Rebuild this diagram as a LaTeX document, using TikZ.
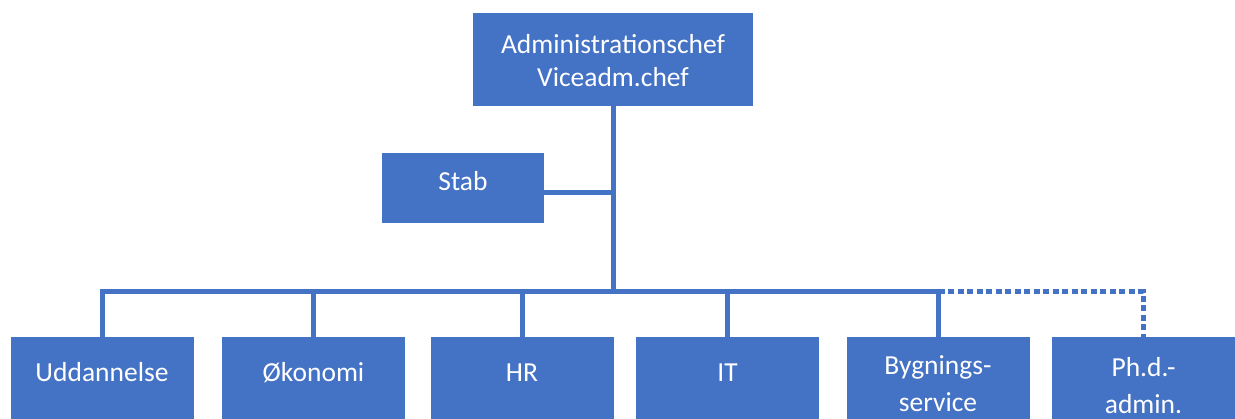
\documentclass[tikz,border=0pt]{standalone}
\usepackage{fontspec}
\setmainfont{Carlito}
\definecolor{obl}{HTML}{4472C4}
\begin{document}
\begin{tikzpicture}[x=1pt,y=-1pt,
  box/.style={fill=obl, draw=none, anchor=north west, inner sep=0pt, minimum width=183pt, minimum height=120pt},
  txt/.style={text=white, font=\fontsize{27.5}{34}\selectfont, anchor=base, inner sep=0pt},
  conn/.style={draw=obl, line width=5pt, line join=miter},
  dconn/.style={draw=obl, line width=5pt, dash pattern=on 6pt off 3.5pt}]
\useasboundingbox (0,0) rectangle (1235,419);
\clip (0,0) rectangle (1235,419);
\fill[white] (0,0) rectangle (1235,419);
% boxes
\node[box, minimum width=280pt, minimum height=93pt] (top) at (473,13) {};
\node[box, minimum width=162pt, minimum height=70pt] (stab) at (382,153) {};
\node[box] (udd) at (11,337) {};
\node[box] (oko) at (222,337) {};
\node[box] (hr)  at (431,337) {};
\node[box] (it)  at (636,337) {};
\node[box] (byg) at (847,337) {};
\node[box] (phd) at (1052,337) {};
\coordinate (bar) at (0,292);
% texts
\node[txt] (topA) at (613,54) {Administrationschef};
\node[txt] (topB) at (613,87) {Viceadm.chef};
\node[txt] (stabT) at (463,191) {Stab};
\node[txt] (uddT) at (102,382) {Uddannelse};
\node[txt] (okoT) at (313.5,382) {Økonomi};
\node[txt] (hrT) at (522,382) {HR};
\node[txt] (itT) at (727.5,382) {IT};
\node[txt] (bygA) at (938,375) {Bygnings-};
\node[txt] (bygB) at (938,412) {service};
\node[txt] (phdA) at (1143.5,377) {Ph.d.-};
\node[txt] (phdB) at (1143.5,414) {admin.};
% connectors
\draw[conn] (top.south) -- (top.south |- bar);
\draw[conn] ([yshift=-4pt]stab.east) -- ([yshift=-4pt]stab.east -| top.south);
\draw[conn] (udd.north) |- (byg.north |- bar) -- (byg.north);
\draw[conn] (oko.north) -- (oko.north |- bar);
\draw[conn] (hr.north) -- (hr.north |- bar);
\draw[conn] (it.north) -- (it.north |- bar);
\draw[dconn] (byg.north |- bar) -| (phd.north);
\end{tikzpicture}
\end{document}
